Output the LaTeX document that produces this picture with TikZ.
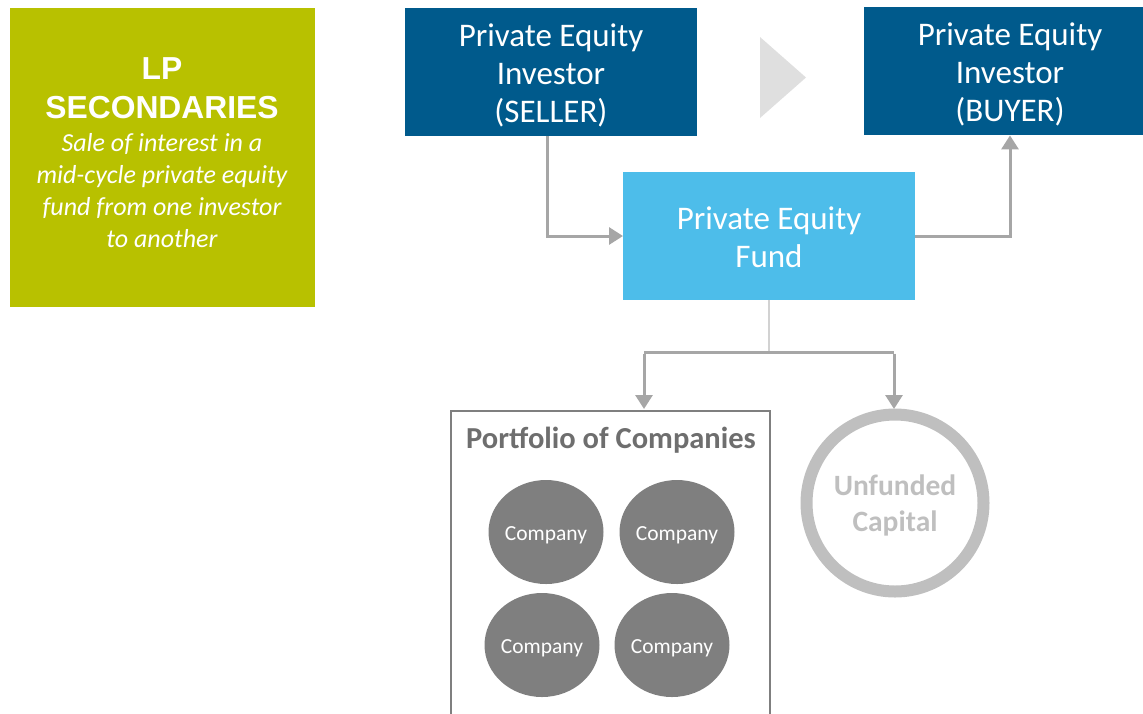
\documentclass[tikz,border=0pt]{standalone}
\usepackage{fontspec}
\setmainfont{Carlito}
\newfontfamily\arialf{Liberation Sans}
\usetikzlibrary{arrows.meta,positioning,shapes.geometric}
\definecolor{dblue}{HTML}{005A8C}
\definecolor{lblue}{HTML}{4DBDEA}
\definecolor{lgreen}{HTML}{B8C100}
\definecolor{conn}{HTML}{A6A6A6}
\definecolor{tri}{HTML}{DFDFDF}
\definecolor{comp}{HTML}{7F7F7F}
\definecolor{ring}{HTML}{BFBFBF}
\definecolor{ttl}{HTML}{6E6E6E}
\tikzset{
  x=1pt,y=-1pt,
  bluebox/.style={fill=dblue,text=white,minimum width=292pt,minimum height=128pt,anchor=north west,inner sep=0pt},
  btext/.style={text=white,align=center,font=\fontsize{33}{38}\selectfont},
  company/.style={ellipse,fill=comp,minimum width=115pt,minimum height=104pt,inner sep=0pt},
  ctext/.style={text=white,font=\fontsize{21.5}{24}\selectfont,yshift=-3pt},
  connector/.style={draw=conn,line width=3pt,-{Triangle[length=14pt,width=17pt]}},
}
\begin{document}
\begin{tikzpicture}
\useasboundingbox (0,0) rectangle (1143,713);
% green box
\node[fill=lgreen,minimum width=305pt,minimum height=299pt,anchor=north west,inner sep=0pt] (lp) at (10,8) {};
\node[text=white,align=center,font=\arialf\bfseries\fontsize{31.8}{39}\selectfont] (lpt) at (162,88) {LP\\SECONDARIES};
\node[text=white,align=center,font=\itshape\fontsize{26}{32}\selectfont] (lpd) at (162,191) {Sale of interest in a\\mid-cycle private equity\\fund from one investor\\to another};
% blue boxes
\node[bluebox,minimum width=292pt,minimum height=128pt] (seller) at (405,8) {};
\node[btext] (sellert) at (551,75) {Private Equity\\Investor\\(SELLER)};
\node[bluebox,minimum width=279pt,minimum height=128pt] (buyer) at (864,7) {};
\node[btext] (buyert) at (1010,74) {Private Equity\\Investor\\(BUYER)};
\node[bluebox,fill=lblue,minimum width=292pt,minimum height=128pt] (fund) at (623,172) {};
\node[btext] (fundt) at (769,237.5) {Private Equity\\Fund};
% triangle
\fill[tri] (760,37) -- (806,77.5) -- (760,118) -- cycle;
% connectors
\coordinate (s1) at (547,236);
\coordinate (b1) at (1010,236);
\draw[connector] (547,136) -- (s1) -- (fund.west |- s1);
\draw[connector] (fund.east |- b1) -- (b1) -- (buyer.south -| b1);
% down connectors
\coordinate (mid) at (769,352);
\draw[draw=ring!70,line width=2pt] (fund.south -| mid) -- (mid);
\coordinate (lft) at (644,352);
\coordinate (rgt) at (894,352);
\draw[draw=conn,line width=3pt] (lft) -- (rgt);
\draw[connector] ([yshift=-1.5pt]lft) -- (644,409);
\draw[connector] ([yshift=-1.5pt]rgt) -- (894,409);
% portfolio
\draw[draw=comp,line width=2pt] (451,720) -- (451,411) -- (770,411) -- (770,720);
\node[text=ttl,font=\bfseries\fontsize{30.5}{32}\selectfont] (port) at (611,440) {Portfolio of Companies};
\node[company] (c1) at (546,532) {};
\node[company] (c2) at (677,532) {};
\node[company] (c3) at (542,645) {};
\node[company] (c4) at (672,645) {};
\node[ctext] (c1t) at (c1.center) {Company};
\node[ctext] (c2t) at (c2.center) {Company};
\node[ctext] (c3t) at (c3.center) {Company};
\node[ctext] (c4t) at (c4.center) {Company};
% unfunded
\node[circle,draw=ring,line width=12pt,minimum size=177pt,inner sep=0pt] (unf) at (895,503) {};
\node[text=ring,align=center,font=\bfseries\fontsize{29.5}{36}\selectfont] (unft) at (895,505) {Unfunded\\Capital};
\end{tikzpicture}
\end{document}
